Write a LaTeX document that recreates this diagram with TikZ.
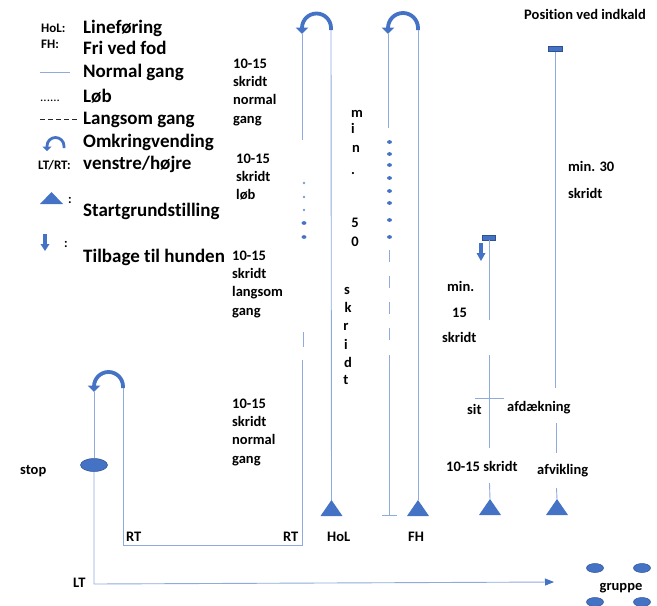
\documentclass[tikz,border=0pt]{standalone}
\usepackage{fontspec}
\setmainfont{Carlito}[Ligatures=NoCommon]
\usetikzlibrary{arrows.meta,shapes.geometric}
\definecolor{linec}{RGB}{143,170,220}
\definecolor{bl}{RGB}{68,114,196}
\definecolor{bld}{RGB}{47,82,143}
\begin{document}
\begin{tikzpicture}[x=1pt,y=-1pt,
  pline/.style={draw=linec, line width=0.9pt},
  uturn/.style={draw=bl, line width=3.8pt, -{Triangle[length=6.5pt,width=12.5pt]}},
  uturnsmall/.style={draw=bl, line width=2.8pt, -{Triangle[length=4.5pt,width=9pt]}},
  dotm/.style={fill=bl},
  marker/.style={rectangle, fill=bl, draw=bld, line width=0.5pt, minimum width=14pt, minimum height=5pt, inner sep=0pt},
  oval/.style={ellipse, fill=bl, draw=bld, line width=0.5pt, inner sep=0pt},
  leg/.style={font=\fontsize{19}{21}\selectfont\bfseries, inner sep=0pt, text height=12.2pt, text depth=0pt, anchor=west},
  sml/.style={font=\fontsize{13}{15}\selectfont\bfseries, inner sep=0pt, text height=8.3pt, text depth=0pt, anchor=west},
  lbl/.style={font=\fontsize{14.5}{17}\selectfont\bfseries, inner sep=0pt, text height=9.2pt, text depth=0pt, anchor=west},
  blk/.style={font=\fontsize{14.5}{18.3}\selectfont\bfseries, inner sep=0pt, align=left, anchor=north west},
  vlet/.style={font=\fontsize{14.5}{17}\selectfont\bfseries, inner sep=0pt, text height=9.2pt, text depth=0pt, anchor=center}
]
\useasboundingbox (0,0) rectangle (657,606);

% ---------------- legend ----------------
\node[sml] (kHoL) at (41,28) {HoL:};
\node[leg] (tHoL) at (83,27.2) {Lineføring};
\node[sml] (kFH) at (41,44) {FH:};
\node[leg] (tFH) at (83,48.2) {Fri ved fod};
\coordinate (ln1) at (40,72); \coordinate (ln2) at (70,72);
\draw[pline] (ln1) -- (ln2);
\node[leg] (tNorm) at (83,71.2) {Normal gang};
\node[font=\fontsize{13}{15}\selectfont, inner sep=0pt, anchor=base west] (kDots) at (40,101) {......};
\node[leg] (tLob) at (83,96.2) {Løb};
\coordinate (ld1) at (40,119); \coordinate (ld2) at (80,119);
\draw[black!85, line width=0.9pt, dash pattern=on 4.5pt off 3.5pt] (ld1) -- (ld2);
\node[leg] (tLang) at (83,118.2) {Langsom gang};
\draw[uturnsmall] (64,148) -- (64,146) arc[start angle=0, end angle=-180, radius=8.5] -- (47,151);
\node[leg] (tOmk) at (83,141.2) {Omkringvending};
\node[sml] (kLR) at (38,165) {LT/RT:};
\node[leg] (tLR) at (83,163.2) {venstre/højre};
\fill[bl] (51.5,192) -- (63,204) -- (40,204) -- cycle;
\node[sml] (kc1) at (68,199) {:};
\node[leg] (tStart) at (83,210.2) {Startgrundstilling};
\fill[bl] (43,234) rectangle (47,244);
\fill[bl] (40.5,244) -- (49.5,244) -- (45,251) -- cycle;
\node[sml] (kc2) at (64,243) {:};
\node[leg] (tTilb) at (83,256.2) {Tilbage til hunden};

% ---------------- text blocks ----------------
\node[blk] (b1) at (233,58.4) {10-15\\skridt\\normal\\gang};
\node[blk] (b2) at (236,153.4) {10-15\\skridt\\løb};
\node[blk] (b3) at (232,250.4) {10-15\\skridt\\langsom\\gang};
\node[blk] (b4) at (232,398.4) {10-15\\skridt\\normal\\gang};

% vertical "min. 50 skridt"
\node[vlet] (v1) at (357,113) {m};
\node[vlet] (v2) at (353,129) {i};
\node[vlet] (v3) at (356,148) {n};
\node[vlet] (v4) at (353,170) {.};
\node[vlet] (v5) at (355,223) {5};
\node[vlet] (v6) at (355,242) {0};
\node[vlet] (v7) at (347,290) {s};
\node[vlet] (v8) at (348,308) {k};
\node[vlet] (v9) at (346,326) {r};
\node[vlet] (v10) at (346,345) {i};
\node[vlet] (v11) at (348,363) {d};
\node[vlet] (v12) at (346,380) {t};

% ---------------- column A (first U-turn, HoL) ----------------
\coordinate (holT) at (331.5,500);
\draw[uturn] (331,30) -- (331,28) arc[start angle=0, end angle=-180, radius=14.5] -- (302,34);
\draw[pline] (331,30) -- (holT);
\fill[bl] (holT) -- ++(11,16) -- ++(-22,0) -- cycle;
\draw[pline] (302,34) -- (302,140);
\foreach \yy in {183,197,210} \fill[bl!70] (304,\yy) ellipse[x radius=1.3, y radius=1.3];
\foreach \yy in {223,237} \fill[dotm] (304,\yy) ellipse[x radius=2.4, y radius=1.9];
\draw[pline] (303,332) -- (303,347);
\coordinate (rtB) at (302,545);
\coordinate (rtA) at (123,545);
\draw[pline] (302,360) -- (rtB) -- (rtA) -- (123,388);
\node[lbl] (lRT1) at (126,537) {RT};
\node[lbl] (lRT2) at (283,537) {RT};
\node[lbl] (lHoL) at (327,537) {HoL};

% ---------------- bottom-left U-turn, stop, LT ----------------
\draw[uturn] (123,388) -- (123,386.5) arc[start angle=0, end angle=-180, radius=14.5] -- (94,392);
\node[oval, minimum width=27pt, minimum height=13pt] (stop) at (94,465) {};
\node[lbl] (lstop) at (20,470) {stop};
\draw[pline] (94,392) -- (stop.north);
\coordinate (lt) at (94,584);
\coordinate (arrEnd) at (554,582);
\draw[pline, -{Triangle[length=9pt,width=7pt,color=bl]}] (stop.south) -- (lt) -- (arrEnd);
\node[lbl] (lLT) at (73,583) {LT};

% group
\node[oval, minimum width=17pt, minimum height=9pt] (g1) at (595,568) {};
\node[oval, minimum width=17pt, minimum height=9pt] (g2) at (642,568) {};
\node[oval, minimum width=17pt, minimum height=9pt] (g3) at (595,602) {};
\node[oval, minimum width=17pt, minimum height=9pt] (g4) at (642,602) {};
\node[lbl, anchor=center] (lgr) at (621,586) {gruppe};

% ---------------- column B (second U-turn, FH) ----------------
\coordinate (fhT) at (418,500);
\draw[uturn] (418,30) -- (418,28) arc[start angle=0, end angle=-180, radius=15] -- (388,34);
\draw[pline] (418,30) -- (fhT);
\fill[bl] (fhT) -- ++(11,16) -- ++(-22,0) -- cycle;
\draw[pline] (388,34) -- (388,128);
\foreach \yy in {142,154,165,178,191,203,220,237} \fill[dotm] (389.5,\yy) ellipse[x radius=2.4, y radius=1.9];
\draw[pline, dash pattern=on 12pt off 14pt] (389,250) -- (389,352);
\coordinate (bEnd) at (389,515);
\draw[pline] (389,355) -- (bEnd);
\draw[pline] (382,515) -- (397,515);
\node[lbl] (lFH) at (408,537) {FH};

% ---------------- column C ----------------
\node[marker, minimum width=13pt] (mC) at (489,237.5) {};
\draw[pline] (mC.south) -- (489,320);
\draw[pline] (489,355) -- (489,448);
\draw[pline] (475,398) -- (504,398);
\coordinate (cT) at (490,499);
\draw[pline] (489.5,483) -- (cT);
\fill[bl] (cT) -- ++(11,16) -- ++(-22,0) -- cycle;
\fill[bl] (479,243) rectangle (483,253);
\fill[bl] (476.5,253) -- (485.5,253) -- (481,261) -- cycle;
\node[lbl] (lmin) at (447,287) {min.};
\node[lbl] (l15) at (452,313) {15};
\node[lbl] (lskr) at (442,338) {skridt};
\node[lbl] (lsit) at (467,410) {sit};
\node[lbl] (l1015) at (446,467) {10-15 skridt};

% ---------------- column D ----------------
\node[marker] (mD) at (555,49) {};
\node[lbl, anchor=center] (lpos) at (585,15) {Position ved indkald};
\draw[pline] (mD.south) -- (555,388);
\draw[pline] (556,423) -- (556,453);
\coordinate (dT) at (557,499);
\draw[pline] (556.5,488) -- (dT);
\fill[bl] (dT) -- ++(11,16) -- ++(-22,0) -- cycle;
\node[lbl] (lmin30) at (568,167) {min. 30};
\node[lbl] (lskr30) at (568,194) {skridt};
\node[lbl] (lafd) at (507,407) {afdækning};
\node[lbl] (lafv) at (537,470) {afvikling};
\end{tikzpicture}
\end{document}
